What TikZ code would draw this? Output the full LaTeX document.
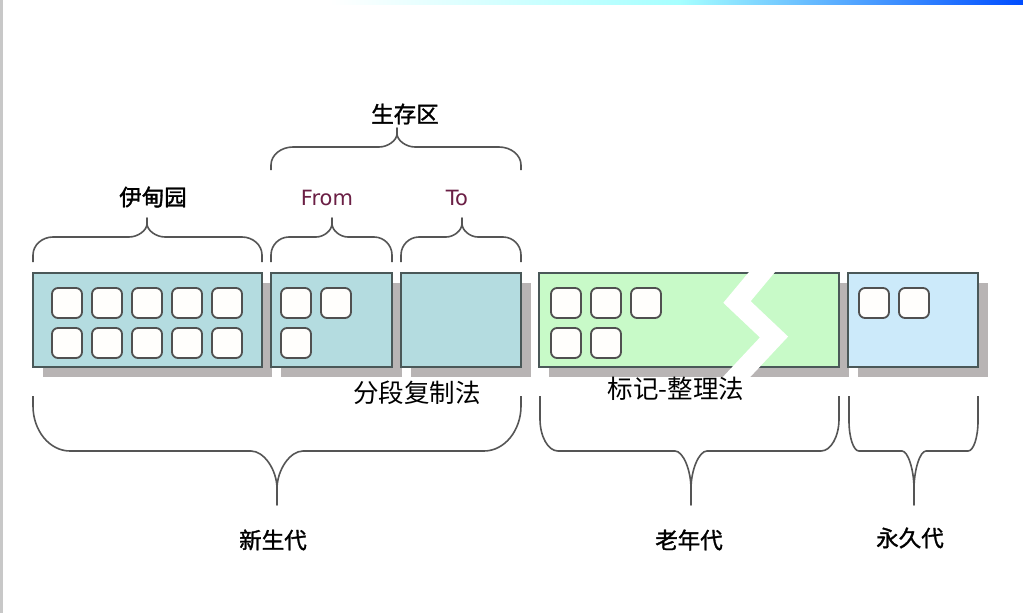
\documentclass[tikz,border=0pt]{standalone}
\usepackage{fontspec}
\newfontfamily\cjk{Noto Sans CJK SC}
\newfontfamily\cjkb[FakeBold=1.4]{Noto Sans CJK SC}
\newfontfamily\lat{DejaVu Sans}
\definecolor{edenfill}{HTML}{B4DCE0}
\definecolor{oldfill}{HTML}{C8FAC8}
\definecolor{permfill}{HTML}{CCEAFA}
\definecolor{boxline}{HTML}{4A5858}
\definecolor{shadowgray}{HTML}{B8B4B4}
\definecolor{cellline}{HTML}{505050}
\definecolor{cellfill}{HTML}{FFFEFC}
\definecolor{braceline}{HTML}{555555}
\definecolor{fromto}{HTML}{6B1F45}
\definecolor{edgegray}{HTML}{C8C8C8}
\newcommand\mybrace[9]{%
  \draw[bracestyle] ({#1},{#4}) -- ({#1},{#5+(#8)}) .. controls ({#1},{#5+0.45*(#8)}) and ({#1+0.45*#7},{#5}) .. ({#1+#7},{#5})
    -- ({#3-#9},{#5}) .. controls ({#3-0.5*#9},{#5}) and ({#3},{#5+0.35*(#6-#5)}) .. ({#3},{#5+0.7*(#6-#5)}) -- ({#3},{#6})
    -- ({#3},{#5+0.7*(#6-#5)}) .. controls ({#3},{#5+0.35*(#6-#5)}) and ({#3+0.5*#9},{#5}) .. ({#3+#9},{#5})
    -- ({#2-#7},{#5}) .. controls ({#2-0.45*#7},{#5}) and ({#2},{#5+0.45*(#8)}) .. ({#2},{#5+(#8)}) -- ({#2},{#4});}
\begin{document}
\begin{tikzpicture}[x=1pt,y=-1pt,
  region/.style={draw=boxline,line width=1.5pt},
  shadowbox/.style={fill=shadowgray,draw=none},
  cell/.style={draw=cellline,fill=cellfill,line width=1.8pt,rounded corners=6pt},
  bracestyle/.style={draw=braceline,line width=1.6pt,line join=round},
  biglabel/.style={inner sep=0pt,font=\cjkb\fontsize{22.5}{22.5}\selectfont},
  methodlabel/.style={inner sep=0pt,font=\cjk\fontsize{25.5}{25.5}\selectfont},
  ftlabel/.style={inner sep=0pt,text=fromto,font=\lat\fontsize{21}{21}\selectfont}]
\useasboundingbox (0,0) rectangle (1023,613);
\fill[white] (0,0) rectangle (1023,613);
% page decorations
\fill[edgegray] (0,0) rectangle (3,613);
\shade[left color=white,right color=cyan!35!white] (330,0) rectangle (680,4);
\shade[left color=cyan!35!white,right color=blue!70!cyan] (680,0) rectangle (1023,4);
% shadows
\fill[shadowbox] (43,283) rectangle (272,377);
\fill[shadowbox] (281,283) rectangle (402,377);
\fill[shadowbox] (411,283) rectangle (531,377);
\fill[shadowbox] (549,283) rectangle (849,377);
\fill[shadowbox] (858,283) rectangle (988,377);
% regions
\draw[region,fill=edenfill] (33,273) rectangle (262,367);
\draw[region,fill=edenfill] (271,273) rectangle (392,367);
\draw[region,fill=edenfill] (401,273) rectangle (521,367);
\draw[region,fill=oldfill] (539,273) rectangle (839,367);
\draw[region,fill=permfill] (848,273) rectangle (978,367);
% zigzag break in old generation
\draw[white,line width=20pt,miter limit=10] (772,260) -- (737,302) -- (774,337) -- (730,384);
% cells: eden
\foreach \i in {0,...,4}{
  \draw[cell] (52+40*\i,288) rectangle +(30,30);
  \draw[cell] (52+40*\i,328) rectangle +(30,30);
}
% cells: from
\draw[cell] (281,288) rectangle +(30,30);
\draw[cell] (321,288) rectangle +(30,30);
\draw[cell] (281,328) rectangle +(30,30);
% cells: old
\draw[cell] (551,288) rectangle +(30,30);
\draw[cell] (591,288) rectangle +(30,30);
\draw[cell] (631,288) rectangle +(30,30);
\draw[cell] (551,328) rectangle +(30,30);
\draw[cell] (591,328) rectangle +(30,30);
% cells: perm
\draw[cell] (859,288) rectangle +(30,30);
\draw[cell] (899,288) rectangle +(30,30);
% top braces
\mybrace{33}{262}{147}{262}{237}{218}{20}{18}{18}
\mybrace{271}{392}{332}{262}{237}{218}{18}{18}{16}
\mybrace{401}{521}{462}{262}{237}{218}{18}{18}{16}
\mybrace{271}{521}{397}{170}{147}{128}{22}{18}{18}
% bottom braces
\mybrace{33}{521}{277}{396}{451}{505}{37}{-45}{26}
\mybrace{540}{839}{691}{396}{451}{505}{18}{-32}{16}
\mybrace{849}{978}{914}{396}{451}{505}{10}{-30}{12}
% labels
\node[biglabel] (survivor) at (405,114) {生存区};
\node[biglabel] (eden) at (153,197) {伊甸园};
\node[ftlabel] (from) at (327,198) {From};
\node[ftlabel] (to) at (457,198) {To};
\node[methodlabel] (copy) at (417,393) {分段复制法};
\node[methodlabel] (mark) at (676,389) {标记-整理法};
\node[biglabel] (young) at (273,540) {新生代};
\node[biglabel] (old) at (689,540) {老年代};
\node[biglabel] (perm) at (910,538) {永久代};
\end{tikzpicture}
\end{document}
